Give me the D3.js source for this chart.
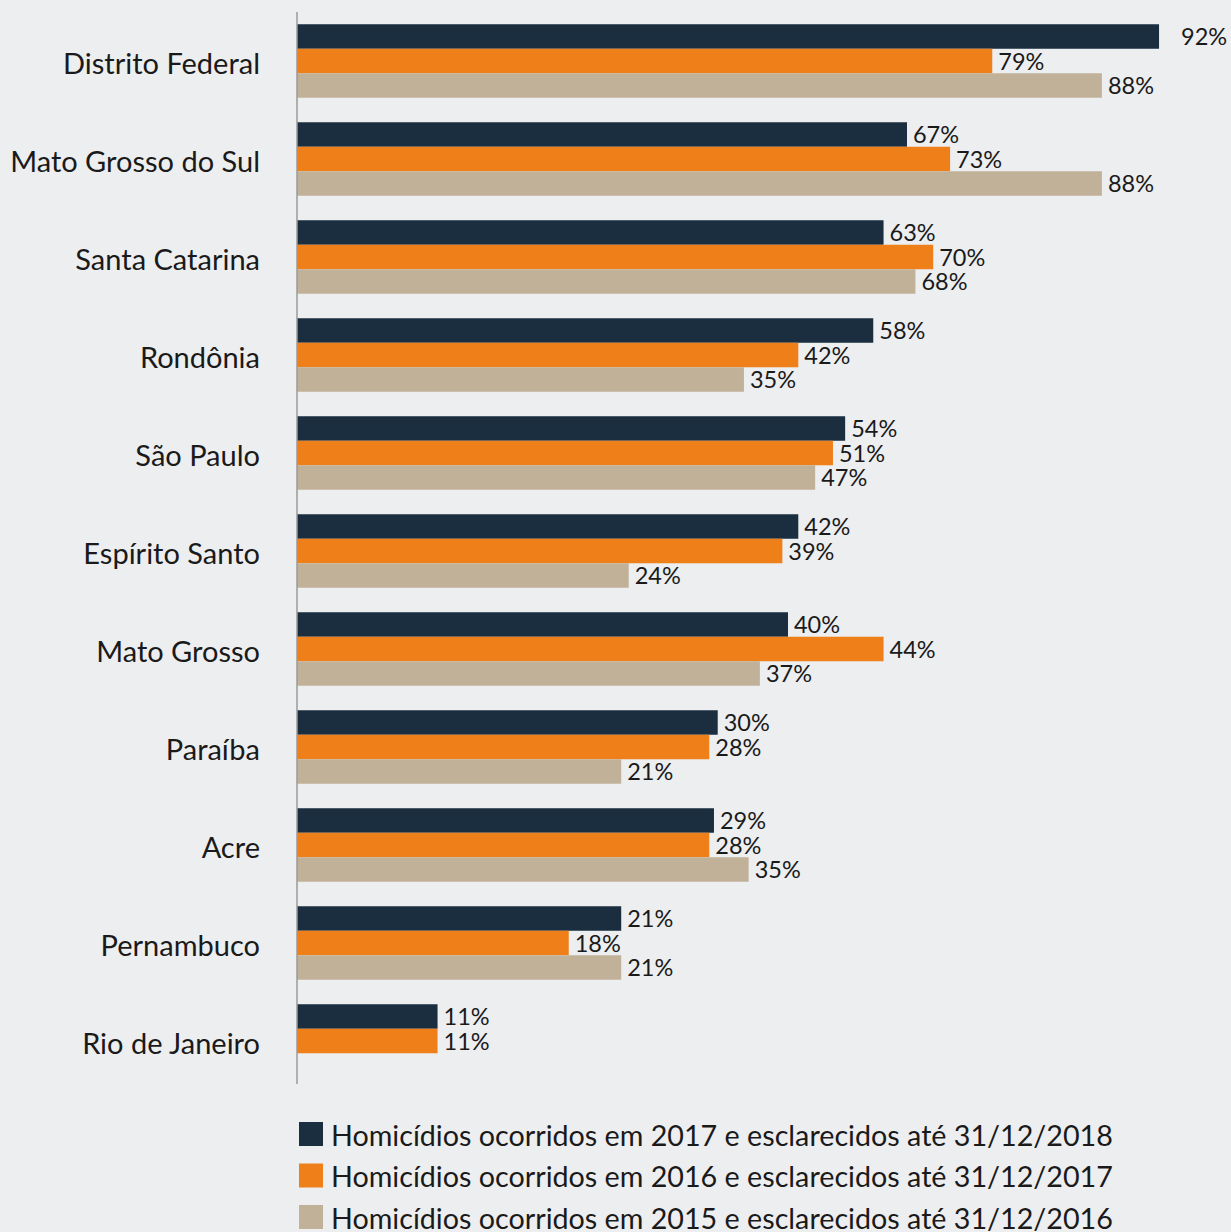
<!DOCTYPE html>
<html lang="pt-BR">
<head>
<meta charset="utf-8">
<title>Homicídios esclarecidos por UF</title>
<script src="https://cdn.jsdelivr.net/npm/d3@7/dist/d3.min.js"></script>
<style>
    html, body {
        margin: 0;
        padding: 0;
        background-color: #edeef0;
    }
    #chart svg {
        display: block;
        font-family: Lato, "Open Sans", sans-serif;
    }
</style>
</head>
<body>
<div id="chart"></div>
<script>
// States, top to bottom
const states = [
    'Distrito Federal', 'Mato Grosso do Sul', 'Santa Catarina', 'Rondônia', 'São Paulo',
    'Espírito Santo', 'Mato Grosso', 'Paraíba', 'Acre', 'Pernambuco', 'Rio de Janeiro'
];

// Legend text for each series
const seriesNames = [
    'Homicídios ocorridos em 2017 e esclarecidos até 31/12/2018',
    'Homicídios ocorridos em 2016 e esclarecidos até 31/12/2017',
    'Homicídios ocorridos em 2015 e esclarecidos até 31/12/2016'
];

// Printed labels (%), as shown next to the bars
const label2017 = [92, 67, 63, 58, 54, 42, 40, 30, 29, 21, 11];
const label2016 = [79, 73, 70, 42, 51, 39, 44, 28, 28, 18, 11];
const label2015 = [88, 88, 68, 35, 47, 24, 37, 21, 35, 21, null];

// Bar lengths as drawn in the source (they do not follow the printed labels)
const bar2017 = [92.0, 65.1, 62.6, 61.5, 58.5, 53.5, 52.4, 44.9, 44.5, 34.6, 15.0];
const bar2016 = [74.2, 69.7, 67.9, 53.5, 57.2, 51.8, 62.6, 44.0, 44.0, 29.0, 15.0];
const bar2015 = [85.9, 85.9, 66.0, 47.7, 55.3, 35.4, 49.4, 34.6, 48.2, 34.6, null];

const colors = ['#1a2e3f', '#ee7f19', '#c1b199'];

class ClearanceChart {
    constructor() {
        this.width = 1231;
        this.height = 1232;
        this.draw();
    }

    buildRows() {
        const bars = [bar2017, bar2016, bar2015];
        const labels = [label2017, label2016, label2015];
        return states.map((state, i) => ({
            state: state,
            values: bars.map((b, s) => ({ series: s, value: b[i], label: labels[s][i] }))
                .filter(d => d.value != null)
        }));
    }

    draw() {
        const rows = this.buildRows();
        const axisX = 297;

        const svg = d3.select('#chart')
            .append('svg')
            .attr('width', this.width)
            .attr('height', this.height)
            .style('background-color', '#edeef0');

        const x = d3.scaleLinear()
            .domain([0, 100])
            .range([axisX, axisX + 937]);

        const y = d3.scaleBand()
            .domain(states)
            .range([12, 1090])
            .paddingInner(0.25)
            .paddingOuter(0.125);

        const ySub = d3.scaleBand()
            .domain([0, 1, 2])
            .range([0, y.bandwidth()]);

        const groups = svg.selectAll('.state')
            .data(rows)
            .enter()
            .append('g')
            .attr('class', 'state')
            .attr('transform', d => `translate(0, ${y(d.state)})`);

        groups.selectAll('rect')
            .data(d => d.values)
            .enter()
            .append('rect')
            .attr('x', x(0))
            .attr('y', d => ySub(d.series))
            .attr('width', d => x(d.value) - x(0))
            .attr('height', ySub.bandwidth())
            .attr('fill', d => colors[d.series]);

        // longest bar gets its label pushed a bit further out, as in the source
        groups.selectAll('.value')
            .data(d => d.values)
            .enter()
            .append('text')
            .attr('class', 'value')
            .attr('x', d => x(d.value) + (x(d.value) > 1150 ? 22 : 6))
            .attr('y', d => ySub(d.series) + ySub.bandwidth() / 2 + 8.5)
            .attr('font-size', 23.5)
            .attr('fill', '#1a1a1a')
            .text(d => d.label + '%');

        // State names
        svg.selectAll('.state-label')
            .data(states)
            .enter()
            .append('text')
            .attr('class', 'state-label')
            .attr('x', 260)
            .attr('y', d => y(d) + y.bandwidth() / 2 + 12.5)
            .attr('text-anchor', 'end')
            .attr('font-size', 29)
            .attr('fill', '#1a1a1a')
            .text(d => d);

        // Vertical axis line
        svg.append('line')
            .attr('x1', axisX)
            .attr('x2', axisX)
            .attr('y1', 12)
            .attr('y2', 1084)
            .attr('stroke', '#9a9a9a')
            .attr('stroke-width', 1.5);

        // Legend
        const legend = svg.selectAll('.legend')
            .data(seriesNames)
            .enter()
            .append('g')
            .attr('class', 'legend')
            .attr('transform', (d, i) => `translate(299, ${1122 + i * 41.5})`);

        legend.append('rect')
            .attr('width', 24)
            .attr('height', 24)
            .attr('fill', (d, i) => colors[i]);

        legend.append('text')
            .attr('x', 32)
            .attr('y', 23.5)
            .attr('font-size', 28.7)
            .attr('fill', '#1a1a1a')
            .text(d => d);
    }
}

document.addEventListener('DOMContentLoaded', () => {
    new ClearanceChart();
});
</script>
</body>
</html>
